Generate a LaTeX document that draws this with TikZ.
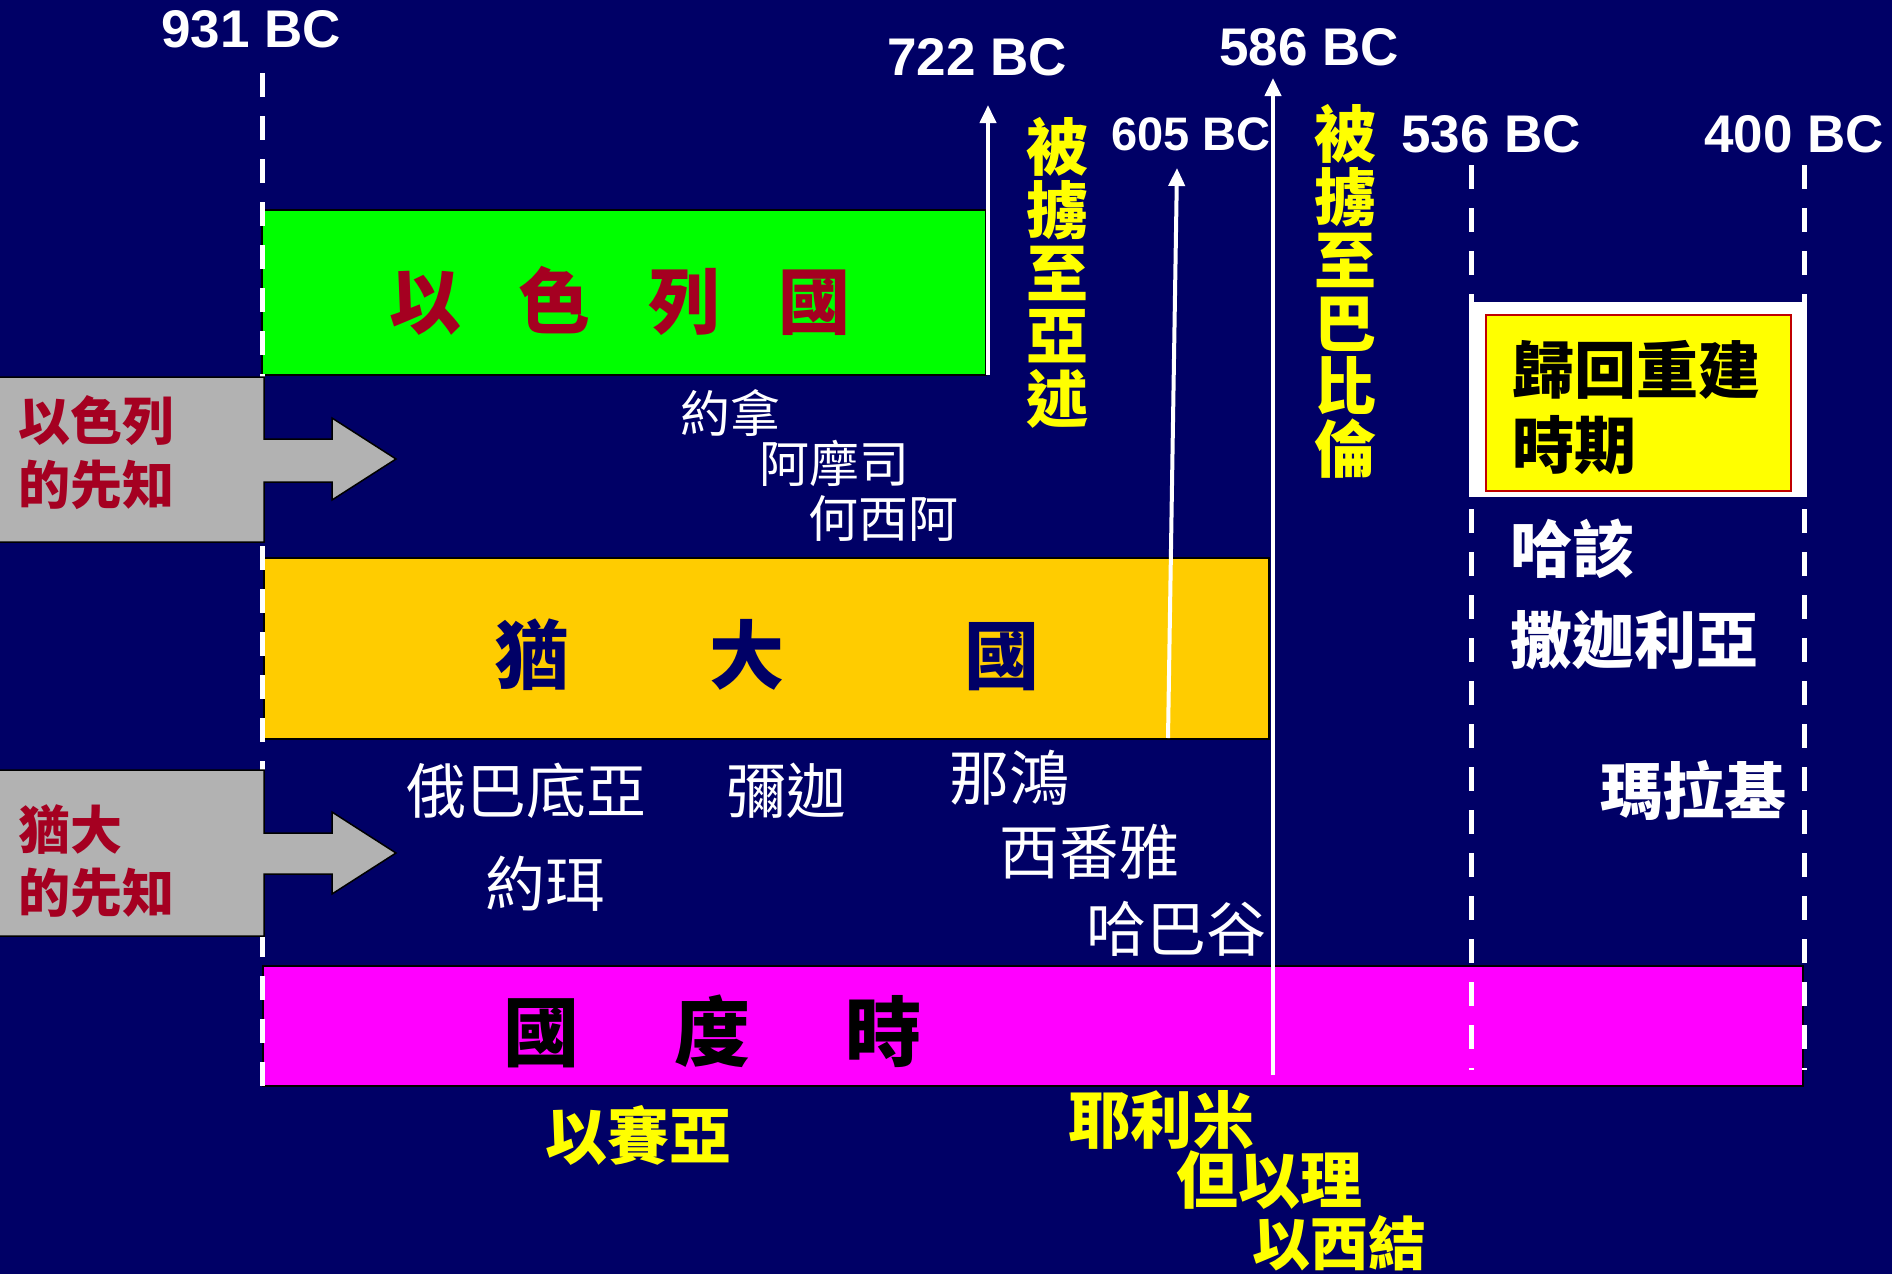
\documentclass[tikz,border=0pt]{standalone}
\usepackage{fontspec}
\setmainfont{Liberation Sans}
\newfontfamily\cjk{Noto Sans CJK TC}
\usetikzlibrary{arrows.meta}
\definecolor{bgnavy}{RGB}{0,0,102}
\definecolor{darkred}{RGB}{165,0,33}
\definecolor{boxgray}{RGB}{178,178,178}
\definecolor{judgold}{RGB}{255,204,0}
\definecolor{isrgreen}{RGB}{0,255,0}
\definecolor{kmagenta}{RGB}{255,0,255}
\definecolor{retyellow}{RGB}{255,255,0}
\definecolor{thinred}{RGB}{192,0,0}
\begin{document}
\begin{tikzpicture}[x=1pt,y=-1pt,
  datelab/.style={text=white,font=\fontsize{53}{53}\selectfont\bfseries,inner sep=0pt,anchor=base west},
  band/.style={draw=black,line width=2pt},
  tline/.style={white,line width=5pt,dash pattern=on 24pt off 19pt},
  evt/.style={white,line width=4pt,-{Triangle[length=18pt,width=16pt]}},
  grayarr/.style={fill=boxgray,draw=black,line width=1.5pt},
  nm/.style={text=white,font=\cjk\fontsize{60}{60}\selectfont,inner sep=0pt,anchor=west},
  nmsmall/.style={nm,font=\cjk\fontsize{50}{50}\selectfont},
  nmb/.style={nm,font=\cjk\bfseries\fontsize{62}{62}\selectfont},
  pro/.style={text=retyellow,font=\cjk\bfseries\fontsize{62}{62}\selectfont,inner sep=0pt,anchor=west},
  vlab/.style={text=retyellow,font=\cjk\bfseries\fontsize{62}{63}\selectfont,align=center,inner sep=0pt},
  grlab/.style={text=darkred,font=\cjk\bfseries\fontsize{52}{52}\selectfont,inner sep=0pt,anchor=west},
  big/.style={font=\cjk\bfseries\fontsize{72}{72}\selectfont,inner sep=0pt}
]
% background
\fill[bgnavy] (0,0) rectangle (1892,1274);
\useasboundingbox (0,0) rectangle (1892,1274);

% kingdom bands
\fill[isrgreen,band] (262,210) rectangle (986,375);
\fill[judgold,band] (264,558) rectangle (1269,739);
\fill[kmagenta,band] (263,966) rectangle (1803,1086);

% dashed time lines
\coordinate (t931a) at (262,73);
\coordinate (t931b) at (262,1102);
\coordinate (t536a) at (1471,165);
\coordinate (t536b) at (1471,1070);
\coordinate (t400a) at (1804,165);
\coordinate (t400b) at (1804,1070);
\draw[tline] (t931a) -- (t931b);
\draw[tline] (t536a) -- (t536b);
\draw[tline] (t400a) -- (t400b);

% gray prophet arrows
\draw[grayarr] (-5,377) -- (264,377) -- (264,439) -- (332,439) -- (332,418) -- (396,459)
  -- (332,500) -- (332,482) -- (264,482) -- (264,542) -- (-5,542) -- cycle;
\draw[grayarr] (-5,770) -- (264,770) -- (264,833) -- (332,833) -- (332,812) -- (396,853)
  -- (332,894) -- (332,874) -- (264,874) -- (264,936) -- (-5,936) -- cycle;

% return box
\fill[white] (1469,302) rectangle (1807,497);
\fill[retyellow,draw=thinred,line width=2pt] (1486,315) rectangle (1791,491);

% event arrows
\coordinate (a722s) at (988,375);
\coordinate (a722e) at (988,105);
\coordinate (a605s) at (1168,738);
\coordinate (a605e) at (1177,168);
\coordinate (a586s) at (1273,1075);
\coordinate (a586e) at (1273,78);
\draw[evt] (a722s) -- (a722e);
\draw[evt] (a605s) -- (a605e);
\draw[evt] (a586s) -- (a586e);

% dates
\node[datelab] (d931) at (161,47) {931 BC};
\node[datelab] (d722) at (887,75) {722 BC};
\node[datelab] (d586) at (1219,65) {586 BC};
\node[datelab,font=\fontsize{47}{47}\selectfont\bfseries] (d605) at (1111,150) {605 BC};
\node[datelab] (d536) at (1401,152) {536 BC};
\node[datelab] (d400) at (1704,152) {400 BC};

% vertical captions
\node[vlab] (assyria) at (1057,273) {被\\擄\\至\\亞\\述};
\node[vlab] (babylon) at (1345,291) {被\\擄\\至\\巴\\比\\倫};

% band titles
\node[big,text=darkred] (israel) at (620,301) {以\hspace{58pt}色\hspace{58pt}列\hspace{58pt}國};
\node[big,text=bgnavy,font=\cjk\bfseries\fontsize{75}{75}\selectfont] (judah) at (767,655) {猶\hspace{140pt}大\hspace{180pt}國};
\node[big,text=black,font=\cjk\bfseries\fontsize{76}{76}\selectfont] (kingdom) at (712,1031) {國\hspace{95pt}度\hspace{95pt}時};

% gray box labels
\node[grlab] (g1a) at (18,421) {以色列};
\node[grlab] (g1b) at (18,485) {的先知};
\node[grlab] (g2a) at (18,830) {猶大};
\node[grlab] (g2b) at (18,893) {的先知};

% prophets of Israel
\node[nmsmall] (jonah) at (680,413) {約拿};
\node[nmsmall] (amos) at (759,463) {阿摩司};
\node[nmsmall] (hosea) at (808,519) {何西阿};

% prophets of Judah
\node[nm] (obadiah) at (406,791) {俄巴底亞};
\node[nm] (micah) at (726,791) {彌迦};
\node[nm] (nahum) at (949,778) {那鴻};
\node[nm] (joel) at (485,884) {約珥};
\node[nm] (zeph) at (999,852) {西番雅};
\node[nm] (habak) at (1086,929) {哈巴谷};

% return period
\node[nmb,text=black] (ret1) at (1512,370) {歸回重建};
\node[nmb,text=black] (ret2) at (1512,445) {時期};
\node[nmb] (haggai) at (1510,549) {哈該};
\node[nmb] (zech) at (1510,640) {撒迦利亞};
\node[nmb] (mal) at (1600,790) {瑪拉基};

% yellow prophets
\node[pro] (isaiah) at (545,1135) {以賽亞};
\node[pro] (jer) at (1068,1120) {耶利米};
\node[pro] (dan) at (1176,1180) {但以理};
\node[pro,font=\cjk\bfseries\fontsize{58}{58}\selectfont] (ezek) at (1252,1243) {以西結};
\end{tikzpicture}
\end{document}
